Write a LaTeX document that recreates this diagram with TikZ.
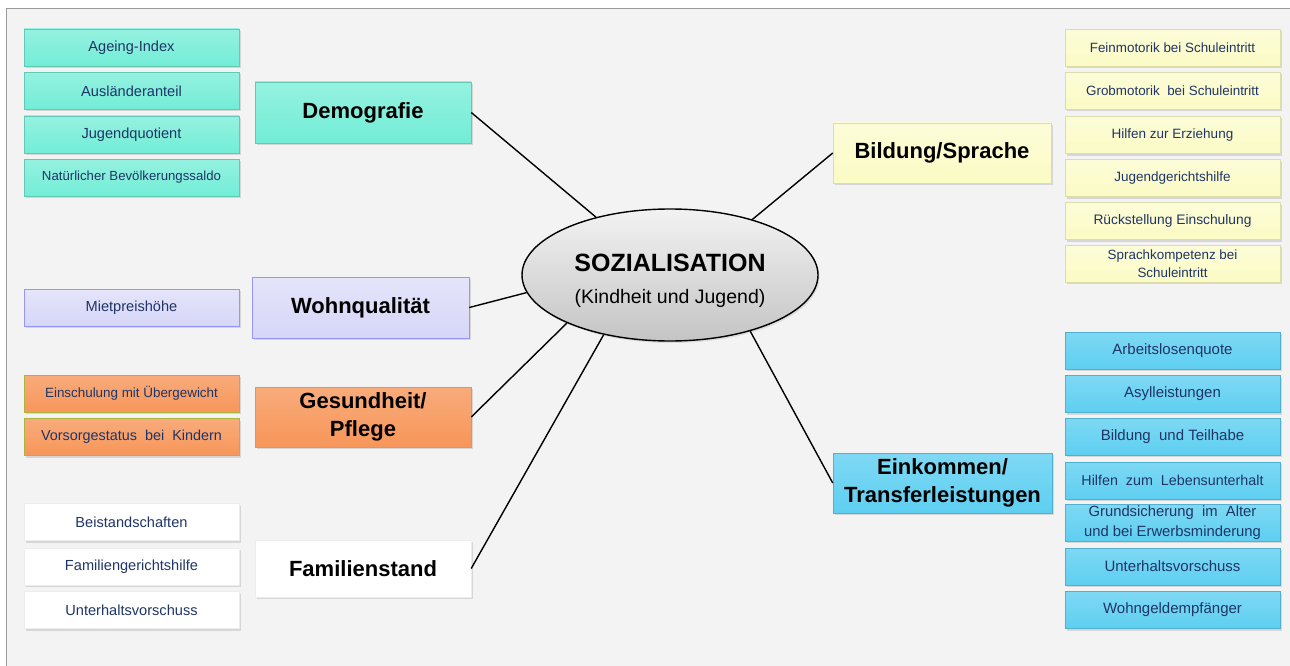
\documentclass[tikz,border=0pt]{standalone}
\usepackage{fontspec}
\setmainfont{Liberation Sans}
\usetikzlibrary{shapes.geometric,shadows}
\definecolor{bgc}{HTML}{F3F3F3}
\definecolor{framec}{HTML}{9A9A9A}
\definecolor{turq}{HTML}{72EDD6}
\definecolor{lav}{HTML}{D6D6F8}
\definecolor{orng}{HTML}{F7965A}
\definecolor{ylw}{HTML}{FBFBC4}
\definecolor{sky}{HTML}{5ECFF1}
\definecolor{navy}{HTML}{1F3566}
\begin{document}
\begin{tikzpicture}[x=1pt,y=-1pt,
  shad/.style={drop shadow={shadow xshift=1.5pt,shadow yshift=-2pt,opacity=0.25}},
  box/.style={rectangle, shad, minimum width=215pt, minimum height=37pt, inner sep=0pt,
    align=center, text=navy, font=\fontsize{14.6}{17}\selectfont},
  cat/.style={rectangle, shad, minimum width=216pt, minimum height=60pt, inner sep=0pt,
    align=center, text=black, font=\fontsize{22}{28}\selectfont\bfseries},
  fturq/.style={top color=turq!75!white, bottom color=turq, draw=turq!85!black, line width=0.5pt},
  flav/.style={top color=lav!65!white, bottom color=lav, draw=lav!70!blue, line width=0.6pt},
  forng/.style={top color=orng!80!white, bottom color=orng, draw=green!30!orng, line width=0.5pt},
  fwht/.style={fill=white, draw=white!93!black, line width=0.4pt},
  fylw/.style={top color=ylw!65!white, bottom color=ylw, draw=ylw!88!black, line width=0.5pt},
  fsky/.style={top color=sky!80!white, bottom color=sky, draw=sky!85!black, line width=0.5pt},
  link/.style={draw=black, line width=1.4pt}
]
\useasboundingbox (0,0) rectangle (1290,666);
\fill[white] (0,0) rectangle (1290,666);
\fill[bgc] (6,9) rectangle (1290,666);
\draw[framec, line width=1pt] (6,666) -- (6,9) -- (1290,9);

% centre
\node[ellipse, draw=black, line width=1.4pt, top color=gray!10, bottom color=gray!46,
  minimum width=296pt, minimum height=132pt, inner sep=0pt,
  drop shadow={shadow xshift=1.5pt,shadow yshift=-2pt,opacity=0.2}] (soz) at (670,275) {};
\node[align=center, inner sep=0pt, font=\fontsize{19.5}{32}\selectfont] (sozt) at (670,281)
  {{\fontsize{25}{32}\selectfont\bfseries SOZIALISATION}\\(Kindheit und Jugend)};

% left: Demografie
\node[box,fturq] (d1) at (131.5,47.5) {Ageing-Index};
\node[box,fturq] (d2) at (131.5,91) {Ausländeranteil};
\node[box,fturq] (d3) at (131.5,134.5) {Jugendquotient};
\node[box,fturq,font=\fontsize{13.2}{17}\selectfont] (d4) at (131.5,177.5) {Natürlicher Bevölkerungssaldo};
\node[cat,fturq,minimum height=61pt] (demo) at (363,112.5) {Demografie};

% left: Wohnqualität
\node[box,flav] (w1) at (131.5,307.5) {Mietpreishöhe};
\node[cat,flav,minimum height=61pt,minimum width=217pt] (wohn) at (360.5,307.5) {Wohnqualität};

% left: Gesundheit
\node[box,forng,font=\fontsize{13.4}{17}\selectfont] (g1) at (131.5,393.5) {Einschulung mit Übergewicht};
\node[box,forng,font=\fontsize{14.4}{17}\selectfont] (g2) at (131.5,437) {Vorsorgestatus\ \ bei\ \ Kindern};
\node[cat,forng] (ges) at (363,417) {Gesundheit/\\Pflege};

% left: Familienstand
\node[box,fwht] (f1) at (131.5,522) {Beistandschaften};
\node[box,fwht] (f2) at (131.5,566.5) {Familiengerichtshilfe};
\node[box,fwht] (f3) at (131.5,610) {Unterhaltsvorschuss};
\node[cat,fwht,minimum height=57pt] (fam) at (363,568.5) {Familienstand};

% right: Bildung/Sprache
\node[cat,fylw,minimum width=218pt] (bild) at (942,153) {Bildung/Sprache};
\node[box,fylw,font=\fontsize{13.4}{17}\selectfont] (b1) at (1172.5,48) {Feinmotorik\ bei Schuleintritt};
\node[box,fylw,font=\fontsize{13.4}{17}\selectfont] (b2) at (1172.5,91) {Grobmotorik\ \ bei Schuleintritt};
\node[box,fylw,font=\fontsize{13.5}{17}\selectfont] (b3) at (1172.5,135) {Hilfen zur Erziehung};
\node[box,fylw,font=\fontsize{13.5}{17}\selectfont] (b4) at (1172.5,178) {Jugendgerichtshilfe};
\node[box,fylw,font=\fontsize{13.8}{17}\selectfont] (b5) at (1172.5,221) {Rückstellung Einschulung};
\node[box,fylw,font=\fontsize{13.4}{18}\selectfont] (b6) at (1172.5,263.5) {Sprachkompetenz bei\\Schuleintritt};

% right: Einkommen
\node[cat,fsky,minimum width=219pt] (eink) at (942.5,483) {Einkommen/\\Transferleistungen};
\node[box,fsky,font=\fontsize{15}{18}\selectfont] (e1) at (1172.5,350.5) {Arbeitslosenquote};
\node[box,fsky,font=\fontsize{15}{18}\selectfont] (e2) at (1172.5,394) {Asylleistungen};
\node[box,fsky,font=\fontsize{15}{18}\selectfont] (e3) at (1172.5,436.5) {Bildung\ \ und Teilhabe};
\node[box,fsky,font=\fontsize{14.3}{18}\selectfont] (e4) at (1172.5,480.5) {Hilfen\ \ zum\ \ Lebensunterhalt};
\node[box,fsky,font=\fontsize{14.8}{20.5}\selectfont] (e5) at (1172.5,522.5) {Grundsicherung\ \ im\ \ Alter\\und bei Erwerbsminderung};
\node[box,fsky,font=\fontsize{15}{18}\selectfont] (e6) at (1172.5,566.5) {Unterhaltsvorschuss};
\node[box,fsky,font=\fontsize{15}{18}\selectfont] (e7) at (1172.5,610) {Wohngeldempfänger};

% connectors
\draw[link] (demo.east) -- (soz.142);
\draw[link] (wohn.east) -- (soz.187);
\draw[link] (ges.east) -- (soz.205);
\draw[link] (fam.east) -- (soz.222);
\draw[link] (bild.west) -- (soz.34);
\draw[link] (eink.west) -- (soz.325);
\end{tikzpicture}
\end{document}
